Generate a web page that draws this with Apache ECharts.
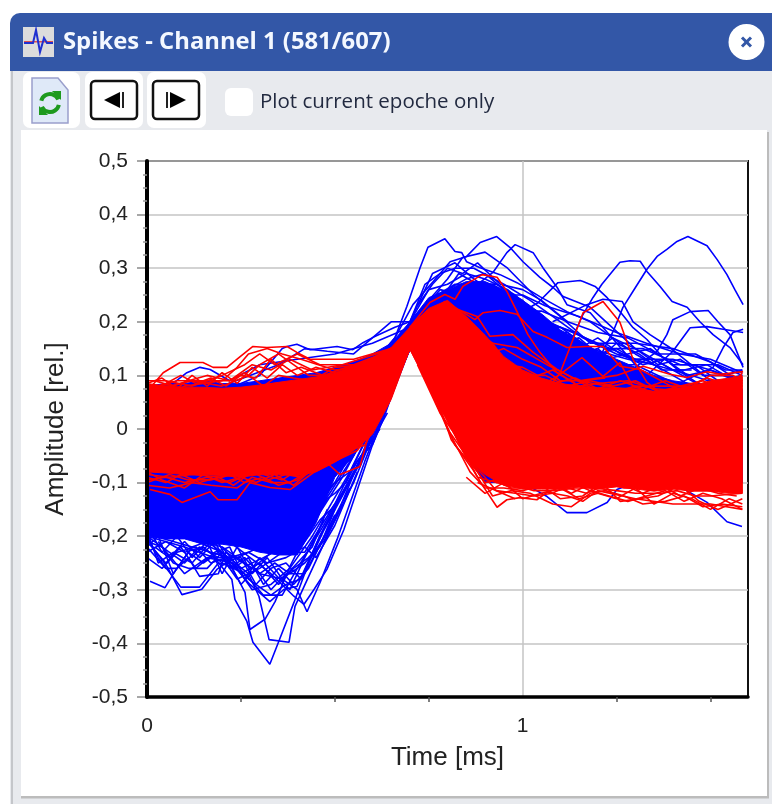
<!DOCTYPE html>
<html><head><meta charset="utf-8"><style>html,body{margin:0;padding:0;background:#fff}#c{width:772px;height:804px;filter:blur(.45px)}</style>
<script src="https://cdn.jsdelivr.net/npm/echarts@6/dist/echarts.min.js"></script></head><body><div id="c"></div>
<script>
const titleText = 'Spikes - Channel 1 (581/607)';
const checkText = 'Plot current epoche only';
const xName = 'Time [ms]', yName = 'Amplitude [rel.]';
const xMajor = [0, 1];
const xMinor = [0.25, 0.5, 0.75, 1.25, 1.5];
const yMinor = [-0.475,-0.45,-0.425,-0.375,-0.35,-0.325,-0.275,-0.25,-0.225,-0.175,-0.15,-0.125,-0.075,-0.05,-0.025,0.025,0.05,0.075,0.125,0.15,0.175,0.225,0.25,0.275,0.325,0.35,0.375,0.425,0.45,0.475];

const bandTime = [0,.05,.1,.15,.2,.25,.3,.35,.4,.45,.5,.55,.6,.65,.7,.75,.8,.85,.9,.95,1,1.05,1.1,1.15,1.2,1.25,1.3,1.35,1.4,1.45,1.5,1.55,1.585];
const blueTop = [.08,.085,.085,.09,.085,.085,.09,.095,.1,.105,.115,.125,.14,.16,.2,.245,.26,.275,.275,.26,.24,.215,.185,.165,.145,.13,.115,.1,.09,.085,.085,.08,.075];
const blueBottom = [-.2,-.205,-.205,-.215,-.215,-.22,-.23,-.235,-.235,-.175,-.09,-.05,.005,.065,.15,.08,.02,-.05,-.1,-.1,-.1,-.1,-.1,-.1,-.1,-.1,-.1,-.1,-.1,-.1,-.1,-.1,-.1];
const redTop = [.085,.08,.078,.078,.076,.078,.082,.087,.092,.097,.105,.118,.133,.152,.19,.225,.24,.21,.175,.135,.11,.095,.085,.08,.077,.077,.075,.07,.075,.08,.09,.095,.098];
const redBottom = [-.08,-.082,-.085,-.085,-.087,-.09,-.085,-.085,-.087,-.08,-.062,-.04,-.01,.055,.15,.085,.015,-.055,-.085,-.105,-.112,-.112,-.112,-.108,-.112,-.108,-.112,-.116,-.112,-.116,-.116,-.12,-.12];

// blue traces: [time, amplitude]
const b01=[[.6,.12],[.66,.17],[.692,.229],[.727,.301],[.748,.339],[.793,.355],[.82,.331],[.838,.329],[.851,.312],[.887,.301],[.94,.288],[.985,.273],[1.046,.247],[1.118,.219],[1.18,.2],[1.3,.14],[1.45,.08],[1.585,.03]];
const b02=[[.6,.12],[.66,.17],[.708,.232],[.772,.283],[.807,.312],[.851,.322],[.887,.348],[.931,.359],[.966,.339],[1.001,.312],[1.046,.283],[1.081,.264],[1.108,.247],[1.18,.227],[1.3,.15],[1.45,.09],[1.585,.05]];
const b03=[[.7,.19],[.8,.24],[.88,.27],[.921,.292],[.958,.329],[.98,.344],[1.028,.329],[1.054,.301],[1.092,.264],[1.118,.232],[1.18,.217],[1.3,.12],[1.45,.07],[1.585,.02]];
const b04=[[.95,.2],[1.04,.235],[1.094,.273],[1.153,.277],[1.161,.275],[1.193,.266],[1.225,.245],[1.259,.219],[1.294,.189],[1.331,.167],[1.374,.133],[1.419,.107],[1.5,.07],[1.585,.04]];
const b05=[[1.05,.12],[1.12,.15],[1.161,.214],[1.187,.245],[1.211,.27],[1.259,.311],[1.286,.314],[1.313,.313],[1.331,.294],[1.366,.266],[1.398,.238],[1.438,.227],[1.472,.2],[1.507,.176],[1.552,.152],[1.587,.12]];
const b06=[[1.1,.08],[1.18,.1],[1.241,.182],[1.267,.227],[1.294,.257],[1.331,.298],[1.358,.322],[1.384,.335],[1.411,.35],[1.44,.359],[1.491,.342],[1.518,.316],[1.544,.288],[1.565,.26],[1.587,.232]];
const b07=[[1.25,.09],[1.358,.145],[1.384,.176],[1.4,.204],[1.446,.219],[1.494,.221],[1.52,.2],[1.552,.176],[1.587,.115]];
const b08=[[1.4,.08],[1.507,.115],[1.534,.152],[1.56,.18],[1.587,.186]];
const b09=[[1.3,.08],[1.4,.145],[1.446,.189],[1.491,.191],[1.534,.186],[1.587,.18]];
const b10=[[1.08,.2],[1.171,.232],[1.214,.242],[1.265,.238],[1.294,.2],[1.339,.176],[1.392,.152],[1.438,.126],[1.5,.09],[1.585,.08]];
const b11=[[.7,.2],[.74,.27],[.78,.29],[.82,.3],[.87,.3],[.95,.27],[1.02,.24],[1.08,.21],[1.16,.17],[1.25,.14],[1.35,.12],[1.45,.1],[1.585,.07]];
const b12=[[.7,.2],[.75,.26],[.8,.27],[.85,.29],[.9,.28],[.96,.26],[1.04,.21],[1.1,.19],[1.2,.16],[1.3,.13],[1.4,.13],[1.5,.11],[1.585,.09]];
const b13=[[.7,.19],[.76,.245],[.82,.27],[.88,.27],[.92,.27],[1,.23],[1.06,.2],[1.14,.18],[1.22,.15],[1.32,.15],[1.42,.12],[1.52,.12],[1.585,.1]];
const b14=[[.7,.19],[.78,.26],[.84,.25],[.9,.26],[.98,.22],[1.05,.22],[1.12,.2],[1.2,.18],[1.28,.17],[1.36,.14],[1.46,.14],[1.54,.11],[1.585,.11]];
const b15=[[.7,.2],[.8,.28],[.84,.32],[.9,.33],[.96,.3],[1.03,.25],[1.1,.21],[1.18,.16],[1.3,.16],[1.4,.15],[1.5,.125],[1.585,.085]];
const b16=[[.7,.2],[.76,.29],[.82,.31],[.87,.28],[.93,.25],[1,.25],[1.06,.23],[1.15,.21],[1.25,.18],[1.33,.16],[1.42,.14],[1.5,.13],[1.585,.105]];
const b17=[[.7,.15],[.9,-.06],[1,-.1],[1.065,-.126],[1.118,-.156],[1.171,-.156],[1.225,-.137],[1.251,-.113],[1.3,-.1],[1.4,-.1],[1.491,-.137],[1.544,-.173],[1.584,-.182]];
const b18=[[0,.06],[.1,.06],[.2,.07],[.3,.1],[.36,.15],[.373,.154],[.399,.158],[.434,.148],[.506,.154],[.548,.148],[.575,.161],[.602,.171],[.66,.19],[.7,.2]];
const b19=[[0,.07],[.06,.08],[.106,.105],[.141,.115],[.168,.111],[.22,.09],[.3,.12],[.4,.13],[.5,.14],[.6,.16],[.7,.19]];
const b20=[[.2,.08],[.35,.12],[.42,.15],[.48,.145],[.55,.14],[.6,.17],[.65,.2],[.7,.2]];
const d01=[[0,-.2],[.1,-.22],[.18,-.24],[.226,-.281],[.234,-.318],[.266,-.359],[.282,-.398],[.327,-.439],[.351,-.396],[.391,-.324],[.434,-.243],[.5,-.17],[.6,0],[.7,.15]];
const d02=[[.1,-.18],[.18,-.2],[.22,-.25],[.261,-.305],[.274,-.374],[.314,-.355],[.341,-.322],[.381,-.256],[.45,-.16],[.55,-.05],[.7,.15]];
const d03=[[.1,-.2],[.2,-.23],[.27,-.27],[.298,-.312],[.325,-.393],[.378,-.398],[.394,-.331],[.418,-.294],[.48,-.2],[.55,-.1],[.62,.02],[.7,.15]];
const d04=[[.2,-.22],[.3,-.27],[.36,-.28],[.399,-.299],[.426,-.341],[.461,-.286],[.506,-.206],[.58,-.06],[.63,.03],[.7,.15]];
const d05=[[.2,-.2],[.33,-.27],[.391,-.312],[.418,-.327],[.445,-.299],[.479,-.262],[.524,-.188],[.6,-.03],[.7,.15]];
const d06=[[.1,-.18],[.2,-.23],[.274,-.29],[.327,-.322],[.365,-.299],[.399,-.294],[.46,-.2],[.56,-.07],[.7,.15]];
const d07=[[.008,-.284],[.048,-.296],[.072,-.268],[.12,-.22],[.2,-.2],[.3,-.2],[.7,.15]];
const d08=[[0,-.2],[.019,-.225],[.053,-.256],[.093,-.309],[.146,-.299],[.186,-.262],[.213,-.249],[.3,-.22],[.4,-.2],[.5,-.1],[.7,.15]];
const d09=[[0,-.2],[.03,-.24],[.09,-.295],[.14,-.295],[.19,-.25],[.25,-.26],[.31,-.24],[.42,-.2],[.52,-.09],[.7,.15]];
const d10=[[0,-.22],[.05,-.26],[.08,-.26],[.11,-.24],[.14,-.275],[.19,-.27],[.21,-.23],[.28,-.26],[.35,-.22],[.45,-.14],[.7,.15]];
const d11=[[0,-.19],[.03,-.25],[.07,-.23],[.12,-.25],[.17,-.21],[.24,-.28],[.3,-.26],[.36,-.23],[.42,-.23],[.5,-.14],[.7,.15]];
const d12=[[0,-.21],[.04,-.22],[.1,-.27],[.16,-.24],[.23,-.25],[.28,-.3],[.33,-.29],[.38,-.26],[.44,-.2],[.54,-.08],[.7,.15]];
const d13=[[0,-.23],[.05,-.21],[.1,-.23],[.15,-.22],[.2,-.25],[.26,-.27],[.31,-.31],[.36,-.31],[.4,-.26],[.47,-.18],[.6,-.02],[.7,.15]];
const d14=[[.1,-.2],[.2,-.22],[.27,-.28],[.33,-.31],[.37,-.29],[.41,-.28],[.47,-.19],[.57,-.06],[.7,.15]];
const f01=[[0,-.18],[.04,-.23],[.08,-.2],[.12,-.24],[.16,-.21],[.2,-.27],[.24,-.22],[.28,-.27],[.32,-.24],[.36,-.28],[.4,-.25],[.44,-.22],[.48,-.15]];
const f02=[[0,-.21],[.05,-.25],[.09,-.22],[.13,-.26],[.18,-.23],[.22,-.22],[.26,-.28],[.3,-.24],[.34,-.27],[.38,-.3],[.42,-.24],[.47,-.17]];
const f03=[[0,-.22],[.03,-.2],[.07,-.27],[.11,-.23],[.15,-.25],[.19,-.23],[.23,-.26],[.27,-.24],[.31,-.29],[.35,-.26],[.39,-.29],[.43,-.26],[.5,-.16]];
const f04=[[0,-.2],[.06,-.23],[.1,-.25],[.14,-.22],[.19,-.24],[.25,-.24],[.29,-.29],[.33,-.26],[.37,-.25],[.41,-.28],[.46,-.2],[.52,-.12]];
const f05=[[0,-.24],[.04,-.26],[.08,-.23],[.13,-.22],[.17,-.25],[.21,-.24],[.25,-.29],[.29,-.26],[.33,-.3],[.37,-.27],[.42,-.27],[.48,-.19],[.54,-.11]];
const f06=[[.02,-.2],[.07,-.21],[.12,-.22],[.17,-.23],[.22,-.24],[.27,-.23],[.32,-.25],[.37,-.24],[.42,-.22],[.45,-.24],[.5,-.18],[.56,-.08]];
const f07=[[.3,-.2],[.36,-.22],[.4,-.23],[.43,-.2],[.46,-.17],[.49,-.15],[.52,-.12],[.55,-.08],[.58,-.04],[.62,0]];
const f08=[[.35,-.2],[.4,-.21],[.44,-.18],[.48,-.13],[.5,-.12],[.53,-.1],[.56,-.06],[.6,-.02],[.64,.03]];
const f09=[[.42,-.16],[.46,-.13],[.5,-.1],[.54,-.08],[.57,-.05],[.6,-.03],[.63,.02],[.66,.08]];
const f10=[[.02,-.22],[.06,-.24],[.1,-.21],[.14,-.24],[.18,-.21],[.22,-.26],[.26,-.24],[.3,-.27],[.34,-.25],[.38,-.27],[.42,-.25],[.46,-.22],[.5,-.15]];
const f11=[[.03,-.21],[.07,-.25],[.11,-.26],[.16,-.26],[.2,-.23],[.25,-.27],[.3,-.25],[.35,-.29],[.39,-.26],[.43,-.24],[.47,-.21],[.52,-.14]];
const u01=[[.75,.2],[.8,.26],[.85,.28],[.9,.29],[.95,.26],[1,.24],[1.05,.19],[1.1,.18],[1.15,.14],[1.2,.15],[1.25,.12],[1.3,.12]];
const u02=[[.78,.24],[.83,.29],[.88,.27],[.93,.27],[.98,.25],[1.03,.22],[1.08,.19],[1.13,.17],[1.18,.15],[1.23,.14],[1.28,.13],[1.35,.12]];
const u03=[[.95,.24],[1,.22],[1.05,.2],[1.1,.16],[1.15,.17],[1.2,.14],[1.25,.15],[1.3,.13],[1.35,.13],[1.4,.11],[1.45,.11]];
const u04=[[1,.21],[1.06,.18],[1.12,.18],[1.18,.14],[1.24,.17],[1.3,.15],[1.36,.12],[1.42,.13],[1.48,.1],[1.54,.1],[1.585,.09]];
const u05=[[1.05,.18],[1.1,.19],[1.16,.16],[1.22,.13],[1.28,.14],[1.34,.15],[1.4,.12],[1.46,.12],[1.52,.09],[1.585,.085]];
const u06=[[1.1,.15],[1.15,.15],[1.2,.17],[1.26,.14],[1.32,.12],[1.38,.13],[1.44,.1],[1.5,.11],[1.55,.095],[1.585,.1]];
const u07=[[1.15,.12],[1.2,.13],[1.25,.16],[1.31,.14],[1.37,.11],[1.43,.11],[1.49,.12],[1.54,.1],[1.585,.11]];
const u08=[[.72,.23],[.76,.27],[.8,.3],[.84,.29],[.88,.31],[.94,.27],[1,.26],[1.05,.24],[1.12,.2]];
const blueTraces=[b01,b02,b03,b04,b05,b06,b07,b08,b09,b10,b11,b12,b13,b14,b15,b16,b17,b18,b19,b20,d01,d02,d03,d04,d05,d06,d07,d08,d09,d10,d11,d12,d13,d14,f01,f02,f03,f04,f05,f06,f07,f08,f09,f10,f11,u01,u02,u03,u04,u05,u06,u07,u08];

// red traces: [time, amplitude]
const r01=[[0,.07],[.043,.105],[.088,.124],[.149,.124],[.176,.115],[.213,.115],[.248,.135],[.282,.154],[.319,.152],[.373,.154],[.399,.143],[.434,.13],[.55,.13],[.65,.15],[.7,.16]];
const r02=[[0,.05],[.1,.08],[.2,.09],[.24,.115],[.27,.14],[.32,.15],[.36,.14],[.41,.13],[.5,.11],[.6,.12],[.7,.16]];
const r03=[[0,.09],[.05,.09],[.12,.08],[.2,.1],[.26,.12],[.3,.14],[.34,.12],[.4,.14],[.46,.12],[.55,.12],[.7,.16]];
const r04=[[0,.08],[.06,.08],[.12,.09],[.2,.08],[.27,.1],[.3,.12],[.35,.14],[.39,.12],[.43,.1],[.5,.1],[.6,.13],[.7,.16]];
const r05=[[0,.075],[.08,.09],[.15,.09],[.22,.09],[.28,.12],[.33,.11],[.38,.13],[.44,.11],[.52,.12],[.7,.16]];
const r06=[[.008,-.113],[.061,-.122],[.093,-.137],[.168,-.117],[.189,-.132],[.24,-.132],[.274,-.1],[.327,-.109],[.381,-.113],[.479,-.063],[.514,-.085],[.567,-.07],[.594,0],[.65,.08],[.7,.15]];
const r07=[[0,-.105],[.06,-.11],[.12,-.1],[.17,-.105],[.24,-.11],[.28,-.09],[.33,-.1],[.38,-.1],[.45,-.07],[.5,-.06],[.56,-.04],[.62,.02],[.7,.15]];
const r08=[[0,-.095],[.05,-.09],[.1,-.1],[.16,-.09],[.22,-.1],[.27,-.085],[.31,-.085],[.36,-.095],[.44,-.06],[.5,-.05],[.58,-.03],[.64,.05],[.7,.15]];
const r09=[[0,-.085],[.06,-.09],[.12,-.085],[.2,-.09],[.3,-.07],[.36,-.08],[.42,-.07],[.5,-.04],[.7,.15]];
const r10=[[.7,.15],[.76,.08],[.81,-.02],[.868,-.076],[.895,-.107],[.932,-.146],[.958,-.132],[.993,-.128],[1.038,-.132],[1.065,-.118],[1.12,-.125],[1.16,-.135],[1.2,-.115],[1.3,-.13],[1.4,-.14],[1.5,-.14],[1.585,-.15]];
const r11=[[.7,.15],[.76,.07],[.82,-.03],[.88,-.08],[.92,-.125],[.97,-.115],[1.02,-.12],[1.08,-.14],[1.13,-.145],[1.18,-.12],[1.22,-.115],[1.27,-.125],[1.32,-.14],[1.38,-.135],[1.43,-.125],[1.48,-.145],[1.53,-.14],[1.585,-.145]];
const r12=[[.7,.15],[.75,.08],[.8,0],[.86,-.08],[.9,-.11],[.95,-.11],[1,-.115],[1.05,-.105],[1.1,-.13],[1.16,-.125],[1.21,-.1],[1.26,-.135],[1.31,-.13],[1.36,-.125],[1.42,-.105],[1.47,-.135],[1.52,-.15],[1.585,-.13]];
const r13=[[.75,.08],[.88,-.09],[.93,-.1],[.98,-.105],[1.03,-.115],[1.09,-.115],[1.14,-.11],[1.19,-.11],[1.25,-.115],[1.3,-.12],[1.37,-.12],[1.41,-.115],[1.46,-.125],[1.5,-.125],[1.585,-.12]];
const r14=[[.8,0],[.9,-.1],[.96,-.09],[1.02,-.1],[1.08,-.1],[1.13,-.12],[1.2,-.095],[1.27,-.11],[1.33,-.11],[1.4,-.095],[1.45,-.115],[1.52,-.105],[1.585,-.115]];
const r15=[[.7,.19],[.753,.236],[.793,.251],[.82,.242],[.841,.266],[.892,.288],[.932,.283],[.958,.257],[.985,.219],[1.014,.176],[1.046,.143],[1.092,.105],[1.15,.08],[1.3,.05],[1.585,.02]];
const r16=[[.7,.19],[.793,.238],[.873,.204],[.895,.217],[.94,.221],[.985,.214],[1.028,.182],[1.065,.171],[1.118,.152],[1.171,.154],[1.214,.154],[1.259,.117],[1.313,.111],[1.411,.074],[1.5,.08],[1.585,.1]];
const r17=[[1,.07],[1.05,.06],[1.1,.105],[1.134,.167],[1.161,.217],[1.214,.238],[1.259,.199],[1.294,.13],[1.331,.087],[1.4,.05],[1.585,0]];
const r18=[[1,.06],[1.1,.102],[1.158,.133],[1.214,.098],[1.259,.124],[1.294,.079],[1.4,.06],[1.585,.03]];
const r19=[[.7,.18],[.8,.23],[.879,.21],[.913,.173],[.974,.176],[1.028,.143],[1.092,.111],[1.2,.07],[1.585,.04]];
const r20=[[.75,.2],[.85,.18],[.913,.161],[.985,.152],[1.065,.12],[1.15,.09],[1.3,.07],[1.585,.05]];
const r21=[[1.15,.09],[1.25,.1],[1.321,.117],[1.392,.102],[1.438,.096],[1.491,.107],[1.526,.102],[1.587,.107]];
const r22=[[1.2,.06],[1.3,.08],[1.39,.08],[1.44,.08],[1.49,.095],[1.54,.085],[1.585,.08]];
const r23=[[1.1,.075],[1.2,.085],[1.28,.09],[1.35,.075],[1.45,.07],[1.52,.09],[1.585,.065]];
const t01=[[0,.085],[.04,.095],[.08,.075],[.12,.1],[.16,.08],[.2,.105],[.24,.085],[.28,.115],[.32,.095],[.36,.12],[.4,.1],[.45,.115],[.5,.105]];
const t02=[[0,.07],[.05,.085],[.09,.1],[.13,.085],[.17,.095],[.21,.08],[.25,.1],[.29,.095],[.33,.13],[.37,.105],[.41,.115],[.47,.1],[.55,.12]];
const t03=[[.02,.09],[.07,.08],[.11,.09],[.16,.1],[.22,.09],[.26,.105],[.31,.08],[.35,.1],[.39,.095],[.44,.09],[.5,.115],[.58,.12]];
const l01=[[0,-.09],[.05,-.1],[.09,-.085],[.14,-.1],[.19,-.09],[.23,-.105],[.28,-.08],[.32,-.095],[.37,-.085],[.41,-.09],[.46,-.07]];
const l02=[[0,-.08],[.04,-.095],[.1,-.11],[.15,-.085],[.2,-.1],[.25,-.09],[.29,-.1],[.34,-.085],[.39,-.105],[.44,-.075],[.5,-.055]];
const l03=[[0,-.1],[.06,-.085],[.11,-.095],[.17,-.095],[.22,-.085],[.26,-.1],[.31,-.09],[.35,-.105],[.4,-.095],[.47,-.06]];
const m01=[[.85,-.09],[.9,-.12],[.95,-.1],[1,-.13],[1.05,-.12],[1.1,-.11],[1.15,-.13],[1.2,-.12],[1.25,-.13],[1.3,-.11],[1.35,-.14],[1.4,-.12],[1.45,-.13],[1.5,-.15],[1.55,-.13],[1.585,-.14]];
const m02=[[.88,-.1],[.93,-.115],[.98,-.12],[1.03,-.125],[1.08,-.12],[1.13,-.1],[1.18,-.115],[1.23,-.125],[1.28,-.135],[1.33,-.125],[1.38,-.115],[1.43,-.135],[1.48,-.12],[1.53,-.13],[1.585,-.15]];
const m03=[[.92,-.095],[.97,-.11],[1.02,-.11],[1.07,-.11],[1.12,-.11],[1.17,-.12],[1.22,-.105],[1.27,-.105],[1.32,-.12],[1.37,-.105],[1.42,-.125],[1.47,-.11],[1.52,-.12],[1.57,-.125]];
const m04=[[.72,.12],[.78,.03],[.82,-.01],[.86,-.06],[.9,-.09],[.93,-.115],[.98,-.13]];
const v01=[[1,.1],[1.06,.1],[1.12,.08],[1.18,.09],[1.24,.08],[1.3,.09],[1.36,.07],[1.42,.08],[1.48,.09],[1.54,.07],[1.585,.105]];
const v02=[[1.02,.09],[1.08,.085],[1.14,.095],[1.2,.075],[1.26,.09],[1.32,.075],[1.38,.09],[1.44,.075],[1.5,.1],[1.56,.1],[1.585,.09]];
const v03=[[.8,.22],[.84,.2],[.88,.18],[.92,.16],[.96,.12],[1,.115],[1.04,.1],[1.08,.11],[1.14,.085]];
const v04=[[.82,.22],[.87,.19],[.91,.14],[.95,.15],[1,.13],[1.05,.115],[1.1,.09],[1.16,.09],[1.22,.095]];
const redTraces=[r01,r02,r03,r04,r05,r06,r07,r08,r09,r10,r11,r12,r13,r14,r15,r16,r17,r18,r19,r20,r21,r22,r23,t01,t02,t03,l01,l02,l03,m01,m02,m03,m04,v01,v02,v03,v04];

const BLUE='#0000ff', RED='#ff0000', SANS='"Liberation Sans",Arial,sans-serif', UI='"Open Sans","Noto Sans",sans-serif';
function band(top,bottom,color,z){
  return {type:'custom',z,silent:true,animation:false,clip:true,data:[0],
    renderItem:(p,api)=>{
      const pts=[];
      bandTime.forEach((t,i)=>pts.push(api.coord([t,top[i]])));
      for(let i=bandTime.length-1;i>=0;i--)pts.push(api.coord([bandTime[i],bottom[i]]));
      return {type:'polygon',shape:{points:pts},style:{fill:color,stroke:color,lineWidth:1}};
    }};
}
function traces(list,color,z){
  return list.map(d=>({type:'line',z,data:d,showSymbol:false,silent:true,animation:false,clip:true,
    lineStyle:{color,width:1.6}}));
}
const R=(x,y,w,h,fill,r,extra)=>Object.assign({type:'rect',silent:true,z:-10,shape:{x,y,width:w,height:h,r:r||0},style:{fill}},extra||{});
const chrome=[
  R(0,0,772,804,'#ffffff'),
  R(10,70,762,734,'#e8eaee'),
  R(11,70,2,734,'#c4c6ca'),
  R(10,13,762,58,'#3357a7',[10,0,0,0]),
  R(21,130,746,667,'#ffffff'),
  R(767,132,2,666,'#bcbcbc'),
  R(21,796,748,2.5,'#bcbcbc'),
  R(23,72,57,56,'#ffffff',7),R(85,72,58,56,'#ffffff',7),R(147,72,59,56,'#ffffff',7),
  R(225,88,28,28,'#ffffff',6),
  // title icon
  R(23,27,31,30,'#dcdcdc'),
  {type:'polyline',silent:true,z:-9,shape:{points:[[24,43],[33,43],[36,30],[40,52],[44,38],[47,43],[53,43]]},style:{stroke:'#2030d0',fill:null,lineWidth:2}},
  R(24,41,29,1.5,'#e05050'),
  // refresh document icon
  {type:'polygon',silent:true,z:-9,shape:{points:[[32,78],[58,78],[68,90],[68,123],[32,123]]},style:{fill:'#dfe9f8',stroke:'#9a9fcc',lineWidth:1.5}},
  {type:'arc',silent:true,z:-9,shape:{cx:50,cy:103,r:9,startAngle:-2.9,endAngle:-0.4},style:{stroke:'#1e9a1e',fill:null,lineWidth:4}},
  {type:'arc',silent:true,z:-9,shape:{cx:50,cy:103,r:9,startAngle:0.2,endAngle:2.7},style:{stroke:'#1e9a1e',fill:null,lineWidth:4}},
  {type:'polygon',silent:true,z:-9,shape:{points:[[52,91],[61,91],[61,100]]},style:{fill:'#1e9a1e'}},
  {type:'polygon',silent:true,z:-9,shape:{points:[[39,106],[39,115],[48,115]]},style:{fill:'#1e9a1e'}},
  // step buttons
  {type:'rect',silent:true,z:-9,shape:{x:91,y:81,width:46,height:38,r:4},style:{fill:'#fff',stroke:'#111',lineWidth:2.5}},
  {type:'polygon',silent:true,z:-8,shape:{points:[[120,92],[120,108],[104,100]]},style:{fill:'#000'}},
  R(122,92,2,16,'#222',0,{z:-8}),
  {type:'rect',silent:true,z:-9,shape:{x:153,y:81,width:46,height:38,r:4},style:{fill:'#fff',stroke:'#111',lineWidth:2.5}},
  {type:'polygon',silent:true,z:-8,shape:{points:[[170,92],[170,108],[186,100]]},style:{fill:'#000'}},
  R(166,92,2,16,'#222',0,{z:-8}),
  // close button
  {type:'circle',silent:true,z:-9,shape:{cx:746.5,cy:42,r:18},style:{fill:'#fff'}},
  {type:'line',silent:true,z:-8,shape:{x1:742,y1:37.5,x2:751,y2:46.5},style:{stroke:'#3357a7',lineWidth:3}},
  {type:'line',silent:true,z:-8,shape:{x1:751,y1:37.5,x2:742,y2:46.5},style:{stroke:'#3357a7',lineWidth:3}},
  // texts
  {type:'text',silent:true,z:-8,x:63,y:42,style:{text:titleText,fill:'#f4f8ff',font:'bold 23.8px '+UI,textVerticalAlign:'middle'}},
  {type:'text',silent:true,z:-8,x:260,y:102,style:{text:checkText,fill:'#222a40',font:'20.5px '+UI,textVerticalAlign:'middle'}}
];
const chart=echarts.init(document.getElementById('c'),null,{renderer:'canvas'});
chart.setOption({
  animation:false,
  backgroundColor:'transparent',
  graphic:{elements:chrome},
  grid:{left:147,right:24,top:161,bottom:107,show:true,borderColor:'#111',borderWidth:2,backgroundColor:'transparent',containLabel:false},
  xAxis:[
    {type:'value',min:0,max:1.6,position:'bottom',name:xName,nameLocation:'middle',nameGap:48,
     nameTextStyle:{fontFamily:SANS,fontSize:26,color:'#222'},
     axisLine:{show:false},
     axisTick:{show:true,length:10,customValues:xMajor,lineStyle:{color:'#8a8a8a',width:1.5}},
     axisLabel:{show:true,customValues:xMajor,margin:19,fontFamily:SANS,fontSize:21,color:'#222',formatter:v=>String(v)},
     splitLine:{show:true,lineStyle:{color:'#c4c4c4',width:1.5}}},
    {type:'value',min:0,max:1.6,position:'bottom',z:10,
     axisLine:{show:true,onZero:false,lineStyle:{color:'#000',width:3.5}},
     axisTick:{show:true,length:5,customValues:xMinor,lineStyle:{color:'#555',width:1.5}},
     axisLabel:{show:false},splitLine:{show:false}}
  ],
  yAxis:[
    {type:'value',min:-0.5,max:0.5,interval:0.1,position:'left',name:yName,nameLocation:'middle',nameGap:78,nameRotate:90,
     nameTextStyle:{fontFamily:SANS,fontSize:26,color:'#222'},
     axisLine:{show:false},
     axisTick:{show:true,length:10,lineStyle:{color:'#8a8a8a',width:1.5}},
     axisLabel:{show:true,margin:19,fontFamily:SANS,fontSize:21,color:'#222',
       formatter:v=>Math.abs(v)<1e-6?'0':v.toFixed(1).replace('.',',')},
     splitLine:{show:true,lineStyle:{color:'#c4c4c4',width:1.5}}},
    {type:'value',min:-0.5,max:0.5,position:'left',z:10,
     axisLine:{show:true,onZero:false,lineStyle:{color:'#000',width:4}},
     axisTick:{show:true,length:4,customValues:yMinor,lineStyle:{color:'#999',width:1.5}},
     axisLabel:{show:false},splitLine:{show:false}}
  ],
  series:[
    band(blueTop,blueBottom,BLUE,2),
    ...traces(blueTraces,BLUE,3),
    band(redTop,redBottom,RED,4),
    ...traces(redTraces,RED,5)
  ]
});
</script></body></html>
